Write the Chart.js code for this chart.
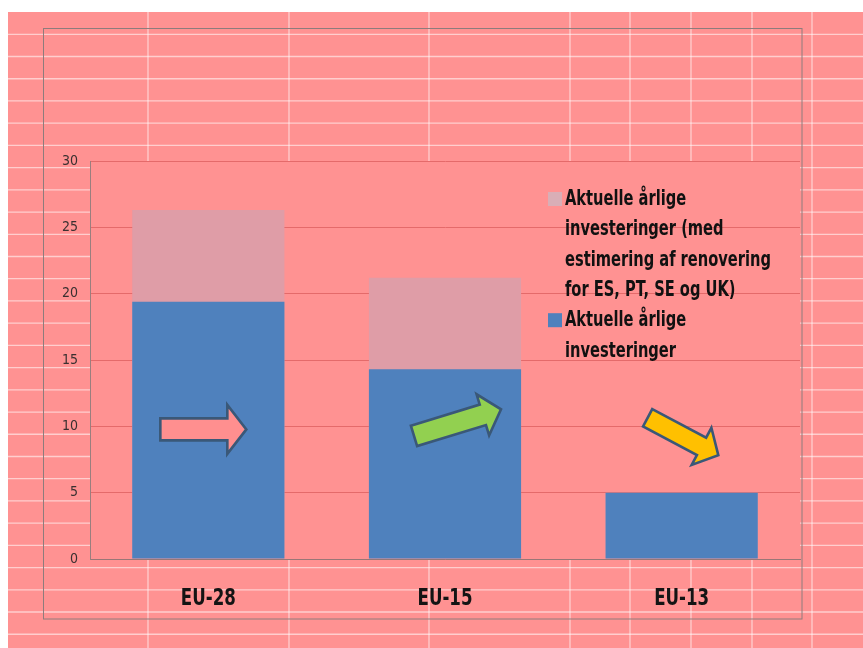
<!DOCTYPE html>
<html>
<head>
<meta charset="utf-8">
<script src="https://cdn.jsdelivr.net/npm/chart.js@4.4.1/dist/chart.umd.min.js"></script>
<style>
  html, body { margin: 0; padding: 0; background: #ffffff; }
  #wrap { position: relative; width: 863px; height: 648px; }
  canvas { display: block; }
</style>
</head>
<body>
<div id="wrap"><canvas id="c" width="863" height="648"></canvas></div>
<script>
// ---- data ----
const categories = ['EU-28', 'EU-15', 'EU-13'];
const withRenovationEstimate = [26.3, 21.2, 5.0];
const currentAnnualInvestments = [19.4, 14.3, 5.0];
const yTicks = [0, 5, 10, 15, 20, 25, 30];
const labelWithEstimate = ['Aktuelle årlige', 'investeringer (med', 'estimering af renovering', 'for ES, PT, SE og UK)'];
const labelCurrent = ['Aktuelle årlige', 'investeringer'];

const PINK = '#FF9292';
const BLUE = '#4F81BD';
const LIGHT = '#DF9DA7';
const NARROW = '"Liberation Sans Narrow", "Arial Narrow", "DejaVu Sans Condensed", sans-serif';

// decorative arrows (style/placement only)
const arrows = [
  { cat: 0, dx: -48, v: 9.77, len: 86, ang: 0,   sh: 11,   hh: 24.5, hl: 19, fill: '#FF8F8F' },
  { cat: 1, dx: -31, v: 9.28, len: 91, ang: -17, sh: 10.7, hh: 21.5, hl: 19, fill: '#92D050' },
  { cat: 2, dx: -34, v: 10.65, len: 80, ang: 28, sh: 9.8,  hh: 21,   hl: 19, fill: '#FFC000' }
];

function drawArrow(ctx, x, y, a) {
  ctx.save();
  ctx.translate(x, y);
  ctx.rotate(a.ang * Math.PI / 180);
  const L = a.len, b = L - a.hl;
  ctx.beginPath();
  ctx.moveTo(0, -a.sh);
  ctx.lineTo(b, -a.sh);
  ctx.lineTo(b, -a.hh);
  ctx.lineTo(L, 0);
  ctx.lineTo(b, a.hh);
  ctx.lineTo(b, a.sh);
  ctx.lineTo(0, a.sh);
  ctx.closePath();
  ctx.fillStyle = a.fill;
  ctx.fill();
  ctx.lineWidth = 2.6;
  ctx.lineJoin = 'miter';
  ctx.strokeStyle = '#3A5878';
  ctx.stroke();
  ctx.restore();
}

// draw text squeezed horizontally by factor k (left or center aligned)
function squeezedText(ctx, text, x, y, k, align) {
  ctx.save();
  ctx.translate(x, y);
  ctx.scale(k, 1);
  ctx.textAlign = align;
  ctx.fillText(text, 0, 0);
  ctx.restore();
}

const sheetPlugin = {
  id: 'sheet',
  beforeDraw(chart) {
    const ctx = chart.ctx, W = chart.width, H = chart.height, ca = chart.chartArea;
    ctx.save();
    ctx.fillStyle = '#ffffff';
    ctx.fillRect(0, 0, W, H);
    ctx.fillStyle = PINK;
    ctx.fillRect(8, 12, W - 8, H - 12);
    // spreadsheet cell lines
    ctx.strokeStyle = 'rgba(255,255,255,0.55)';
    ctx.lineWidth = 1.3;
    for (let y = 34.3; y < H; y += 22.22) {
      ctx.beginPath(); ctx.moveTo(8, y); ctx.lineTo(W, y); ctx.stroke();
    }
    [148, 289, 429, 570, 630, 691, 752, 812].forEach(x => {
      ctx.beginPath(); ctx.moveTo(x, 12); ctx.lineTo(x, H); ctx.stroke();
    });
    // chart frame
    ctx.strokeStyle = '#8E7C7C';
    ctx.lineWidth = 1;
    ctx.strokeRect(43.5, 28.5, 758.5, 590.5);
    // plot area fill
    ctx.fillStyle = PINK;
    ctx.fillRect(ca.left, ca.top, ca.right - ca.left, ca.bottom - ca.top);
    ctx.restore();
  },
  afterDatasetsDraw(chart) {
    const ctx = chart.ctx, xs = chart.scales.x, ys = chart.scales.y, ca = chart.chartArea;
    arrows.forEach(a => drawArrow(ctx, xs.getPixelForValue(a.cat) + a.dx, ys.getPixelForValue(a.v), a));

    // category labels (squeezed to a condensed look)
    ctx.save();
    ctx.font = 'bold 23px ' + NARROW;
    ctx.fillStyle = '#141414';
    ctx.textBaseline = 'alphabetic';
    const kx = 55 / ctx.measureText(categories[0]).width;
    chart.data.labels.forEach((lab, i) => {
      squeezedText(ctx, lab, xs.getPixelForValue(i), ca.bottom + 46, kx, 'center');
    });
    ctx.restore();

    // legend
    ctx.save();
    ctx.font = 'bold 21px ' + NARROW;
    ctx.textBaseline = 'alphabetic';
    const kl = 206 / ctx.measureText('estimering af renovering').width;
    const lx = ca.left + 458, tx = ca.left + 475;
    let base = ca.top + 44;
    const lh = 30.3;
    const items = [
      { lines: chart.data.datasets[1].label, color: '#D9AEB6' },
      { lines: chart.data.datasets[0].label, color: BLUE }
    ];
    items.forEach(it => {
      ctx.fillStyle = it.color;
      ctx.fillRect(lx, base - 13, 14, 14);
      ctx.fillStyle = '#111111';
      it.lines.forEach(line => { squeezedText(ctx, line, tx, base, Math.min(1, kl), 'left'); base += lh; });
    });
    ctx.restore();
  }
};

new Chart(document.getElementById('c'), {
  type: 'bar',
  data: {
    labels: categories,
    datasets: [
      { label: labelCurrent, data: currentAnnualInvestments, backgroundColor: BLUE, order: 0,
        grouped: false, categoryPercentage: 1, barPercentage: 0.643, borderWidth: 0 },
      { label: labelWithEstimate, data: withRenovationEstimate, backgroundColor: LIGHT, order: 1,
        grouped: false, categoryPercentage: 1, barPercentage: 0.643, borderWidth: 0 }
    ]
  },
  options: {
    responsive: false,
    animation: false,
    devicePixelRatio: 1,
    layout: { padding: { left: 44, top: 161, right: 63, bottom: 29 } },
    plugins: { legend: { display: false }, tooltip: { enabled: false }, title: { display: false } },
    scales: {
      x: {
        grid: { display: false, drawTicks: false },
        border: { display: true, color: '#9A7676', width: 1 },
        ticks: { display: false },
        afterFit(s) { s.height = 60; }
      },
      y: {
        min: 0, max: 30,
        afterBuildTicks(s) { s.ticks = yTicks.map(v => ({ value: v })); },
        grid: { color: '#E46A6A', lineWidth: 1, drawTicks: false },
        border: { display: true, color: '#9A7E7E', width: 1 },
        ticks: { padding: 12, color: '#3A3030', font: { family: NARROW, size: 14 } },
        afterFit(s) { s.width = 46; }
      }
    }
  },
  plugins: [sheetPlugin]
});
</script>
</body>
</html>
